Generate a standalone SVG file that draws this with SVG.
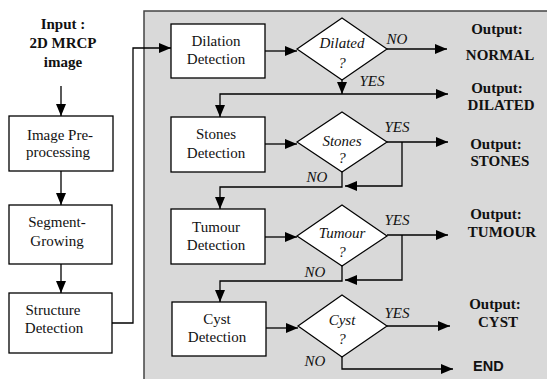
<svg xmlns="http://www.w3.org/2000/svg" width="547" height="379" viewBox="0 0 547 379">
<style>
.box{fill:#fff;stroke:#000;stroke-width:1.3}
.dia{fill:#fff;stroke:#000;stroke-width:1.2}
.t{font-family:"Liberation Serif","Times New Roman",serif;font-size:15px;text-anchor:middle;fill:#111}
.ti{font-family:"Liberation Serif","Times New Roman",serif;font-size:15px;font-style:italic;text-anchor:middle;fill:#111}
.tb{font-family:"Liberation Serif","Times New Roman",serif;font-size:15px;font-weight:bold;text-anchor:middle;fill:#111}
.ts{font-family:"Liberation Sans",Arial,sans-serif;font-size:14.5px;font-weight:bold;fill:#111}
.c{fill:none;stroke:#000;stroke-width:1.3}
.a{marker-end:url(#ah)}
</style>
<defs>
<marker id="ah" viewBox="0 0 12 10" refX="12" refY="5" markerWidth="12" markerHeight="10" markerUnits="userSpaceOnUse" orient="auto">
<path d="M0,0 L12,5 L0,10 z" fill="#000"/>
</marker>
</defs>
<rect width="547" height="379" fill="#fff"/>
<rect id="panel" x="144" y="11" width="410" height="380" fill="#d9d9d9" stroke="#444" stroke-width="1.5"/>

<g id="input">
<text class="tb" x="63" y="29">Input :</text>
<text class="tb" x="63" y="48">2D MRCP</text>
<text class="tb" x="63" y="67">image</text>
</g>
<g id="preproc">
<rect class="box" x="9" y="116" width="104" height="55"/>
<text class="t" x="60" y="140">Image Pre-</text>
<text class="t" x="58" y="157">processing</text>
</g>
<g id="segment">
<rect class="box" x="9" y="205" width="103" height="59"/>
<text class="t" x="57" y="227">Segment-</text>
<text class="t" x="57" y="246">Growing</text>
</g>
<g id="structure">
<rect class="box" x="9" y="293" width="103" height="60"/>
<text class="t" x="53" y="315">Structure</text>
<text class="t" x="54" y="333">Detection</text>
</g>

<g id="dilation">
<rect class="box" x="171" y="24" width="94" height="54"/>
<text class="t" x="216" y="46">Dilation</text>
<text class="t" x="216" y="64">Detection</text>
</g>
<g id="dilated">
<polygon class="dia" points="297,49 342,18 387,49 342,80"/>
<text class="ti" x="342" y="48">Dilated</text>
<text class="ti" x="342" y="68">?</text>
</g>
<g id="stonesdet">
<rect class="box" x="171" y="117" width="94" height="55"/>
<text class="t" x="216" y="139">Stones</text>
<text class="t" x="216" y="158">Detection</text>
</g>
<g id="stones">
<polygon class="dia" points="297,142 342,112 387,142 342,172"/>
<text class="ti" x="342" y="146">Stones</text>
<text class="ti" x="342" y="163">?</text>
</g>
<g id="tumourdet">
<rect class="box" x="171" y="209" width="94" height="55"/>
<text class="t" x="216" y="232">Tumour</text>
<text class="t" x="216" y="250">Detection</text>
</g>
<g id="tumour">
<polygon class="dia" points="297,236 342,205 387,236 342,266"/>
<text class="ti" x="342" y="238">Tumour</text>
<text class="ti" x="342" y="257">?</text>
</g>
<g id="cystdet">
<rect class="box" x="172" y="302" width="94" height="54"/>
<text class="t" x="217" y="324">Cyst</text>
<text class="t" x="217" y="342">Detection</text>
</g>
<g id="cyst">
<polygon class="dia" points="298,326 342,295 387,326 342,357"/>
<text class="ti" x="342" y="325">Cyst</text>
<text class="ti" x="342" y="344">?</text>
</g>

<g id="out-normal">
<text class="tb" x="497" y="34">Output:</text>
<text class="tb" x="500" y="60">NORMAL</text>
</g>
<g id="out-dilated">
<text class="tb" x="497" y="93">Output:</text>
<text class="tb" x="501" y="110">DILATED</text>
</g>
<g id="out-stones">
<text class="tb" x="496" y="149">Output:</text>
<text class="tb" x="500" y="166">STONES</text>
</g>
<g id="out-tumour">
<text class="tb" x="496" y="219">Output:</text>
<text class="tb" x="502" y="237">TUMOUR</text>
</g>
<g id="out-cyst">
<text class="tb" x="495" y="309">Output:</text>
<text class="tb" x="498" y="327">CYST</text>
</g>
<g id="end">
<text class="ts" x="473" y="371">END</text>
</g>

<g id="connectors">
<path class="c a" d="M61,86 V116"/>
<path class="c a" d="M61,171 V205"/>
<path class="c a" d="M61,264 V293"/>
<path class="c a" d="M112,323 H133 V48 H171"/>
<path class="c a" d="M265,51 H297"/>
<path class="c a" d="M387,49 H447"/>
<path class="c a" d="M342,80 V94"/>
<path class="c a" d="M342,94 H448"/>
<path class="c a" d="M342,94 H220 V117"/>
<path class="c a" d="M265,144 H297"/>
<path class="c a" d="M387,142 H448"/>
<path class="c a" d="M402,142 V186 H345"/>
<path class="c a" d="M342,172 V187 H220 V209"/>
<path class="c a" d="M265,237 H297"/>
<path class="c a" d="M387,235 H448"/>
<path class="c a" d="M402,235 V280 H345"/>
<path class="c a" d="M342,266 V281 H220 V302"/>
<path class="c a" d="M266,328 H298"/>
<path class="c a" d="M387,326 H450"/>
<path class="c a" d="M342,357 V369 H453"/>
</g>
<g id="labels">
<text class="ti" x="397" y="44">NO</text>
<text class="ti" x="372" y="86">YES</text>
<text class="ti" x="397" y="132">YES</text>
<text class="ti" x="317" y="182">NO</text>
<text class="ti" x="397" y="225">YES</text>
<text class="ti" x="315" y="277">NO</text>
<text class="ti" x="397" y="318">YES</text>
<text class="ti" x="315" y="366">NO</text>
</g>
</svg>
